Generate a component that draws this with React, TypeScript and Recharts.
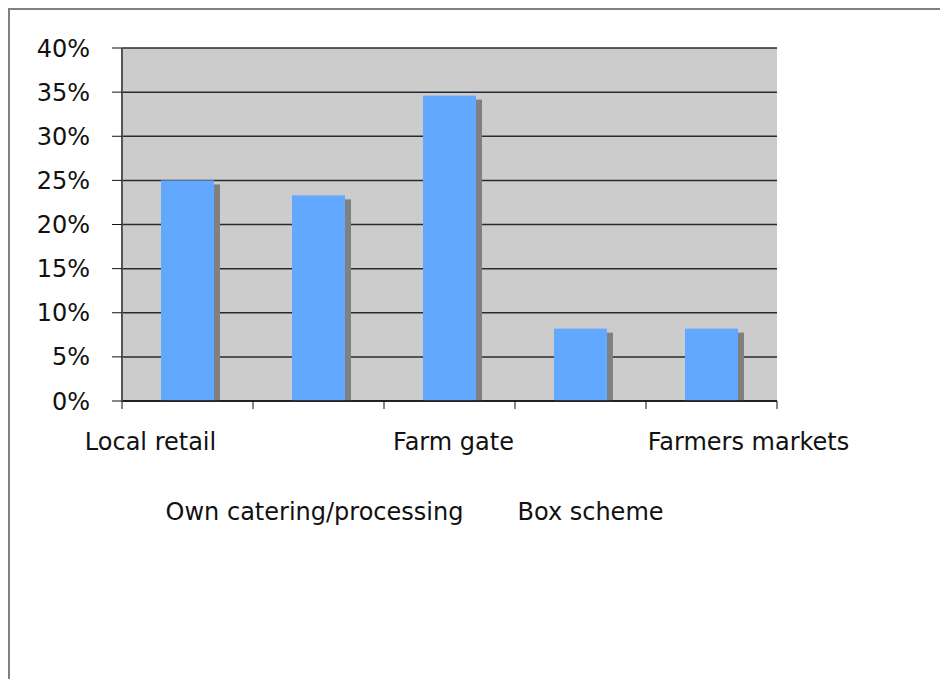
import React from 'react'
import { BarChart, Bar, XAxis, YAxis, CartesianGrid } from 'recharts'

const categories = ['Local retail', 'Own catering/processing', 'Farm gate', 'Box scheme', 'Farmers markets']
const shares = [25, 23.3, 34.6, 8.2, 8.2]
const yTicks = [0, 5, 10, 15, 20, 25, 30, 35, 40]

const data = categories.map((name, i) => ({ name, share: shares[i] }))

const FONT = '"DejaVu Sans", Verdana, sans-serif'
const CHART_W = 930
const CHART_H = 669
const MARGIN = { top: 38, right: 163, bottom: 138, left: 0 }
const Y_AXIS_W = 112
const PLOT_W = CHART_W - MARGIN.left - MARGIN.right - Y_AXIS_W
const BAND = PLOT_W / categories.length

// excel staggers the category labels over two rows and nudges them a bit
const labelNudge = [-37, -4, 4, 10, 37]

function CategoryTick(props: any) {
  const { x, y, payload } = props
  const i = payload.index
  const row = i % 2
  const left = x - BAND / 2
  return (
    <g>
      <line x1={left} y1={y} x2={left} y2={y + 8} stroke="#111" strokeWidth={1} />
      {i === categories.length - 1 && (
        <line x1={left + BAND} y1={y} x2={left + BAND} y2={y + 8} stroke="#111" strokeWidth={1} />
      )}
      <text
        x={x + labelNudge[i]}
        y={y + 49 + row * 70}
        textAnchor="middle"
        fontFamily={FONT}
        fontSize={24}
        fill="#111"
      >
        {payload.value}
      </text>
    </g>
  )
}

function ShadowBar(props: any) {
  const { x, y, width, height } = props
  if (!height) return null
  return (
    <g>
      <rect x={x + 6} y={y + 4} width={width} height={Math.max(height - 4, 0)} fill="#808080" />
      <rect x={x} y={y} width={width} height={height} fill="#63a8ff" />
    </g>
  )
}

export default function App() {
  return (
    <div
      style={{
        width: 970,
        height: CHART_H,
        borderTop: '2px solid #808080',
        borderLeft: '2px solid #808080',
        background: '#fff',
      }}
    >
      <style>{`html,body{overflow:hidden}`}</style>
      <BarChart width={CHART_W} height={CHART_H} data={data} margin={MARGIN}>
        <CartesianGrid
          vertical={false}
          stroke="#2a2a2a"
          strokeWidth={1.5}
          fill="#cccccc"
          fillOpacity={1}
          yAxisId="left"
        />
        <XAxis
          dataKey="name"
          interval={0}
          height={140}
          tickSize={0}
          tickMargin={0}
          tickLine={false}
          axisLine={{ stroke: '#111', strokeWidth: 1.5 }}
          tick={<CategoryTick />}
        />
        <YAxis
          yAxisId="left"
          width={Y_AXIS_W}
          domain={[0, 40]}
          ticks={yTicks}
          interval={0}
          tickSize={10}
          tickMargin={22}
          tickFormatter={(v: number) => `${v}%`}
          tickLine={{ stroke: '#111' }}
          axisLine={{ stroke: '#555', strokeWidth: 2 }}
          tick={{ fontFamily: FONT, fontSize: 24, fill: '#111' }}
        />
        <YAxis
          yAxisId="right"
          orientation="right"
          width={0}
          domain={[0, 40]}
          tick={false}
          tickLine={false}
          axisLine={{ stroke: '#808080', strokeWidth: 2 }}
        />
        <Bar
          yAxisId="left"
          dataKey="share"
          barSize={53}
          shape={<ShadowBar />}
          isAnimationActive={false}
        />
      </BarChart>
    </div>
  )
}
